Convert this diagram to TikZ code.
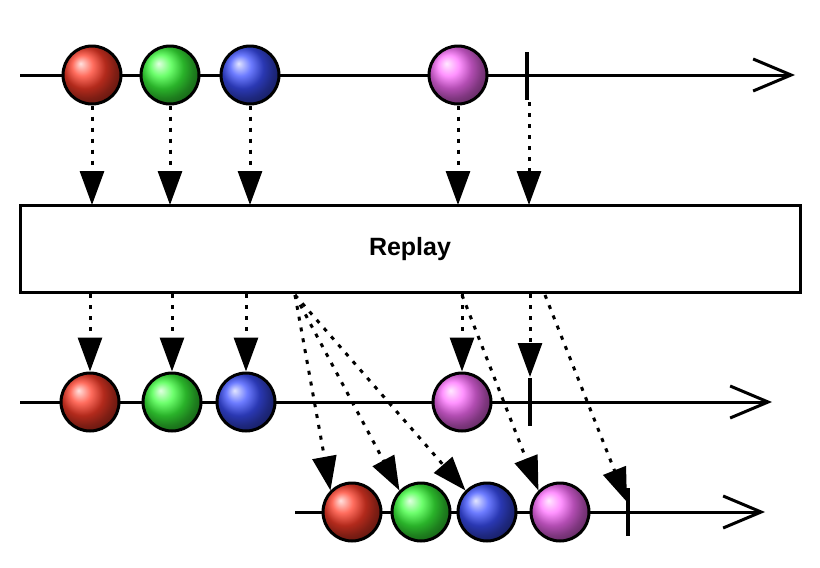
\documentclass[tikz,border=0pt]{standalone}
\usepackage{fontspec}
\setmainfont{Liberation Sans}
\usetikzlibrary{arrows.meta}

\tikzset{
	marble/.style = {circle, draw, line width=3pt, minimum size=58pt, inner sep=0pt, ball color=#1},
	flow/.style = {line width=3pt, dash pattern=on 4pt off 7pt, -{Triangle[width=24pt, length=34pt]}},
	timeline/.style = {line width=3pt, -{Straight Barb[width=32pt, length=38pt, line width=3pt]}},
	tick/.style = {line width=3.5pt}
}
\definecolor{mred}{RGB}{255,60,40}
\definecolor{mgreen}{RGB}{60,255,60}
\definecolor{mblue}{RGB}{60,80,255}
\definecolor{mpink}{RGB}{255,110,255}

\begin{document}
\begin{tikzpicture}[x=1pt, y=-1pt]
	\useasboundingbox (0,0) rectangle (820,568);

% source timeline
	\draw[timeline] (20,75) -- (795,75);
	\node[marble=mred] (s1) at (92,75) {};
	\node[marble=mgreen] (s2) at (170,75) {};
	\node[marble=mblue] (s3) at (250,75) {};
	\node[marble=mpink] (s4) at (458,75) {};
	\draw[tick] (527,52) -- (527,100);
	\coordinate (sc) at (529,102);

% operator box
	\node[draw, line width=3pt, fill=white, minimum width=780pt, minimum height=87pt, font=\bfseries\fontsize{25}{28}\selectfont] (box) at (410,249) {Replay};

% first subscriber
	\draw[timeline] (20,402) -- (772,402);
	\node[marble=mred] (a1) at (90,402) {};
	\node[marble=mgreen] (a2) at (172,402) {};
	\node[marble=mblue] (a3) at (246,402) {};
	\node[marble=mpink] (a4) at (462,402) {};
	\draw[tick] (530,378) -- (530,426);
	\coordinate (ac) at (530,377);

% late subscriber
	\draw[timeline] (295,512) -- (765,512);
	\node[marble=mred] (b1) at (352,512) {};
	\node[marble=mgreen] (b2) at (421,512) {};
	\node[marble=mblue] (b3) at (487,512) {};
	\node[marble=mpink] (b4) at (560,512) {};
	\draw[tick] (628,488) -- (628,536);
	\coordinate (bc) at (627,502);

% arrows into the box
	\foreach \n/\x in {s1/92, s2/170, s3/250, s4/458}
		\draw[flow] (\n.south) -- (\x,205);
	\draw[flow] (sc) -- (529,205);

% arrows out of the box
	\foreach \n/\x in {a1/90, a2/172, a3/246, a4/462}
		\draw[flow] (\x,294) -- (\n.north);
	\draw[flow] (530,294) -- (ac);

% replayed to late subscriber
	\draw[flow] (295,295) -- (b1.north west);
	\draw[flow] (295,295) -- (b2.north west);
	\draw[flow] (295,295) -- (b3.north west);
	\draw[flow] (462,295) -- (b4.north west);
	\draw[flow] (545,295) -- (bc);
\end{tikzpicture}
\end{document}
